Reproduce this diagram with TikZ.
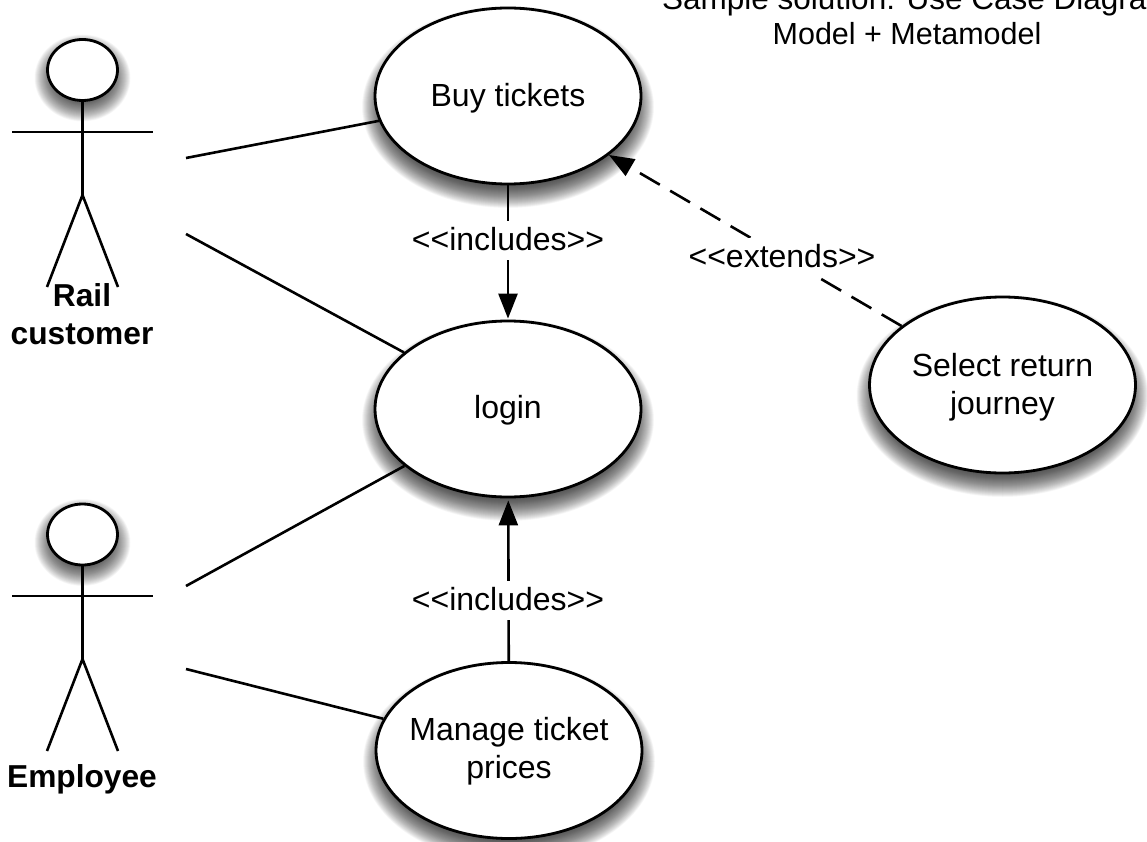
\documentclass[tikz,border=0pt]{standalone}
\usepackage{fontspec}
\setmainfont{Liberation Sans}
\usetikzlibrary{shapes.geometric,arrows.meta}
\tikzset{
  usecase/.style={ellipse,draw=black,line width=2.8pt,fill=white,inner sep=-20pt,
    minimum width=266pt,minimum height=176pt,align=center,font=\fontsize{32}{38}\selectfont},
  headshape/.style={ellipse,draw=black,line width=2.8pt,fill=white,inner sep=0pt,
    minimum width=70pt,minimum height=61pt},
  limb/.style={line width=2.6pt,black},
  link/.style={line width=2.6pt,black},
  tipped/.style={link,-{Triangle[length=25pt,width=19pt]}},
  dashedtip/.style={tipped,dash pattern=on 23pt off 12pt},
  edgelabel/.style={fill=white,inner xsep=1pt,inner ysep=0pt,text height=29pt,text depth=9.5pt,
    anchor=base,font=\fontsize{32}{38}\selectfont},
  actorname/.style={align=center,font=\fontsize{31.7}{38}\selectfont\bfseries},
  titletext/.style={anchor=base,inner sep=0pt}
}
% soft drop shadow: centre x, centre y, radii, downward offset
\newcommand{\softshadow}[5]{%
  \foreach \k in {0,...,48}{%
    \fill[black,opacity=0.025] (#1,#2+#5) ellipse ({#3+13-\k/2} and {#4+13-\k/2});
  }%
}
\begin{document}
\begin{tikzpicture}[x=1pt,y=-1pt]
\useasboundingbox (0,0) rectangle (1147,842);
\softshadow{508}{96}{133}{88}{11}
\softshadow{508}{409}{133}{88}{11}
\softshadow{509}{750.5}{133}{87.5}{11}
\softshadow{1002.5}{385}{133}{88}{11}
\softshadow{82.5}{70}{35}{30.5}{8}
\softshadow{82.5}{534.5}{35}{30.5}{8}

\node[usecase,text height=28pt,text depth=6pt] (buy) at (508,96) {Buy tickets};
\node[usecase,text height=24pt,text depth=6pt] (login) at (508,409) {login};
\node[usecase] (manage) at (509,750.5) {\rule{0pt}{25.5pt}Manage ticket\\prices};
\node[usecase] (select) at (1002.5,385) {\rule{0pt}{27.2pt}Select return\\journey};

\node[headshape] (head1) at (82.5,70) {};
\coordinate (hip1) at (82.5,195);
\coordinate (armL1) at (12,132);
\coordinate (armR1) at (153,132);
\coordinate (footL1) at (47,287);
\coordinate (footR1) at (118,287);
\draw[limb] (head1) -- (hip1);
\draw[limb] (armL1) -- (armR1);
\draw[limb] (footL1) -- (hip1) -- (footR1);
\node[actorname] (rail) at (82,314) {Rail\\customer};

\node[headshape] (head2) at (82.5,534.5) {};
\coordinate (hip2) at (82.5,659);
\coordinate (armL2) at (12,596);
\coordinate (armR2) at (153,596);
\coordinate (footL2) at (47,751);
\coordinate (footR2) at (118,751);
\draw[limb] (head2) -- (hip2);
\draw[limb] (armL2) -- (armR2);
\draw[limb] (footL2) -- (hip2) -- (footR2);
\node[actorname] (employee) at (82,779) {Employee};

\coordinate (a1) at (186,158);
\coordinate (a2) at (186,234);
\coordinate (a3) at (186,586);
\coordinate (a4) at (186,669);
\draw[link] (a1) -- (buy);
\draw[link] (a2) -- (login);
\draw[link] (a3) -- (login);
\draw[link] (a4) -- (manage);

\draw[tipped,shorten >=1pt] (buy) -- (login);
\draw[tipped,shorten >=2pt] (manage) -- (login);
\draw[dashedtip] (select) -- (buy);

\node[edgelabel] (inc1) at (508,250) {<{}<includes>{}>};
\node[edgelabel] (inc2) at (508,610) {<{}<includes>{}>};
\node[edgelabel] (ext) at (782,267) {<{}<extends>{}>};

\node[titletext,anchor=base west,font=\fontsize{31.5}{38}\selectfont] (t1) at (662,10) {Sample solution: Use Case Diagram};
\node[titletext,font=\fontsize{30.5}{38}\selectfont] (t2) at (907,45) {Model + Metamodel};
\end{tikzpicture}
\end{document}
